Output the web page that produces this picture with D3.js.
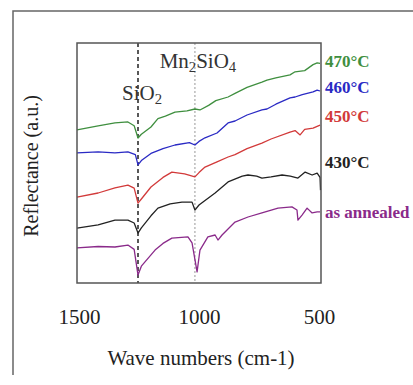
<!DOCTYPE html>
<html>
<head>
<meta charset="utf-8">
<script src="https://cdn.jsdelivr.net/npm/d3@7"></script>
<style>
  html, body { margin: 0; padding: 0; background: #fff; }
  svg { display: block; }
  text { font-family: "Liberation Serif", "DejaVu Serif", serif; }
</style>
</head>
<body>
<div id="chart"></div>
<script>
// wavenumber (cm-1) / reflectance (a.u., offset)
const s470 = [[1508,63.8],[1420,65.5],[1350,66.7],[1296,67.1],[1270,65.5],[1254,60.4],[1240,62],[1200,65],[1171,68.5],[1140,69.5],[1100,71.2],[1050,71.7],[1017,72.5],[996,72.1],[960,74],[930,76],[879,77.5],[850,79],[800,81.5],[738,83.7],[717,84.5],[680,85.5],[621,86.7],[600,88],[560,88.5],[525,91],[508,91.7],[496,91.5]];
const s460 = [[1508,54.2],[1420,54.6],[1350,54.2],[1296,54.6],[1265,53.5],[1254,49.2],[1240,51],[1200,54],[1150,56],[1100,57.5],[1040,58.5],[1017,57.5],[1000,59],[975,60.5],[925,62.5],[879,66.7],[850,67.5],[800,70],[738,72.1],[717,72.5],[680,74.5],[621,77.1],[600,77.5],[570,78.5],[525,79.6],[508,80.4],[496,80]];
const s450 = [[1508,35.8],[1420,37.5],[1350,39.6],[1296,40.8],[1270,39.5],[1254,33.3],[1240,35],[1200,40],[1150,44],[1113,46.2],[1060,45.5],[1017,44.2],[1000,46],[975,48.3],[925,50.5],[879,52.5],[850,53.5],[800,56],[738,58.3],[700,60],[621,62.9],[600,63.5],[579,61.7],[560,64],[525,64.5],[496,65.8]];
const s430 = [[1508,22.9],[1420,24.2],[1350,26.2],[1296,26.2],[1270,25],[1254,20.8],[1240,23],[1200,28],[1171,31.2],[1120,33],[1071,33.7],[1029,33.7],[1017,30.4],[1000,32.5],[933,37.5],[879,42.1],[820,44.5],[796,45],[760,44.5],[738,43.7],[700,44.2],[654,45],[620,44.5],[588,43.7],[558,46.2],[529,45],[508,45.8],[496,44],[494,38.7]];
const sAnnealed = [[1508,14.6],[1420,15.2],[1350,15],[1296,15.8],[1270,14],[1254,3.3],[1240,7],[1183,13.7],[1150,16.5],[1113,18.7],[1046,19.2],[1029,16.7],[1008,4.6],[996,13.7],[963,19.2],[933,20],[921,17.9],[904,20],[850,25.4],[796,27.5],[738,29.2],[671,31.2],[613,31.7],[592,30.4],[588,26.2],[571,28.3],[550,31.2],[529,29.2],[508,29.6],[496,29.6]];

const seriesNames = ['470°C', '460°C', '450°C', '430°C', 'as annealed'];
const seriesColors = ['#3f8f3f', '#2a2ac4', '#d23a3a', '#222222', '#8a2a8a'];
const seriesData = [s470, s460, s450, s430, sAnnealed];
const labelValues = [92.5, 81.5, 69.5, 50.5, 29.5];

const peaks = [1254, 1017];
const peakNames = ['SiO2', 'Mn2SiO4'];
const xTicks = [1500, 1000, 500];

const width = 413, height = 385;
const plot = { left: 77, right: 321, top: 43, bottom: 283 };

const svg = d3.select('#chart').append('svg')
  .attr('width', width)
  .attr('height', height);

// outer frame of the picture
svg.append('path')
  .attr('d', `M13,${height - 10} V11 H${width}`)
  .attr('fill', 'none')
  .attr('stroke', '#666')
  .attr('stroke-width', 1.5);

const x = d3.scaleLinear().domain([1508, 492]).range([plot.left, plot.right]);
const y = d3.scaleLinear().domain([0, 100]).range([plot.bottom, plot.top]);

// peak markers
svg.append('line')
  .attr('x1', x(peaks[0])).attr('x2', x(peaks[0]))
  .attr('y1', plot.top).attr('y2', plot.bottom)
  .attr('stroke', '#222')
  .attr('stroke-width', 1.5)
  .attr('stroke-dasharray', '4,3');

svg.append('line')
  .attr('x1', x(peaks[1])).attr('x2', x(peaks[1]))
  .attr('y1', plot.top).attr('y2', plot.bottom)
  .attr('stroke', '#aaa')
  .attr('stroke-width', 1.2)
  .attr('stroke-dasharray', '2,2');

const line = d3.line()
  .x((d) => x(d[0]))
  .y((d) => y(d[1]));

seriesData.forEach((data, i) => {
  svg.append('path')
    .datum(data)
    .attr('fill', 'none')
    .attr('stroke', seriesColors[i])
    .attr('stroke-width', 1.3)
    .attr('stroke-linejoin', 'round')
    .attr('d', line);
});

// plot frame
svg.append('rect')
  .attr('x', plot.left).attr('y', plot.top)
  .attr('width', plot.right - plot.left)
  .attr('height', plot.bottom - plot.top)
  .attr('fill', 'none')
  .attr('stroke', '#555')
  .attr('stroke-width', 1.5);

// peak labels with subscripts
function chem(g, name) {
  const parts = name.match(/[A-Za-z]+|\d+/g);
  parts.forEach((p) => {
    const t = g.append('tspan').text(p);
    if (/\d/.test(p)) t.attr('font-size', '0.7em').attr('baseline-shift', '-25%');
  });
}

const sio2 = svg.append('text')
  .attr('x', x(peaks[0]) + 4)
  .attr('y', 100)
  .attr('text-anchor', 'middle')
  .attr('font-size', 21)
  .attr('fill', '#333');
chem(sio2, peakNames[0]);

const mn = svg.append('text')
  .attr('x', x(peaks[1]) + 3)
  .attr('y', 68)
  .attr('text-anchor', 'middle')
  .attr('font-size', 21)
  .attr('fill', '#333');
chem(mn, peakNames[1]);

// series labels on the right
svg.selectAll('.series-label')
  .data(seriesNames)
  .enter()
  .append('text')
  .attr('class', 'series-label')
  .attr('x', plot.right + 4)
  .attr('y', (d, i) => y(labelValues[i]))
  .attr('dy', '0.35em')
  .attr('font-size', 17)
  .attr('font-weight', 'bold')
  .attr('fill', (d, i) => seriesColors[i])
  .text((d) => d);

// x axis: labels only
const xAxis = d3.axisBottom(x)
  .tickValues(xTicks)
  .tickSize(0)
  .tickPadding(0)
  .tickFormat(d3.format('d'));

svg.append('g')
  .attr('transform', `translate(0, ${plot.bottom + 26})`)
  .call(xAxis)
  .call((g) => g.select('.domain').remove())
  .call((g) => g.selectAll('.tick text')
    .attr('font-family', '"Liberation Serif", serif')
    .attr('font-size', 21)
    .attr('fill', '#222'));

svg.append('text')
  .attr('x', 201)
  .attr('y', 365)
  .attr('text-anchor', 'middle')
  .attr('font-size', 21)
  .attr('fill', '#222')
  .text('Wave numbers (cm-1)');

svg.append('text')
  .attr('transform', `translate(38, 166) rotate(-90)`)
  .attr('text-anchor', 'middle')
  .attr('font-size', 20)
  .attr('fill', '#222')
  .text('Reflectance (a.u.)');
</script>
</body>
</html>
